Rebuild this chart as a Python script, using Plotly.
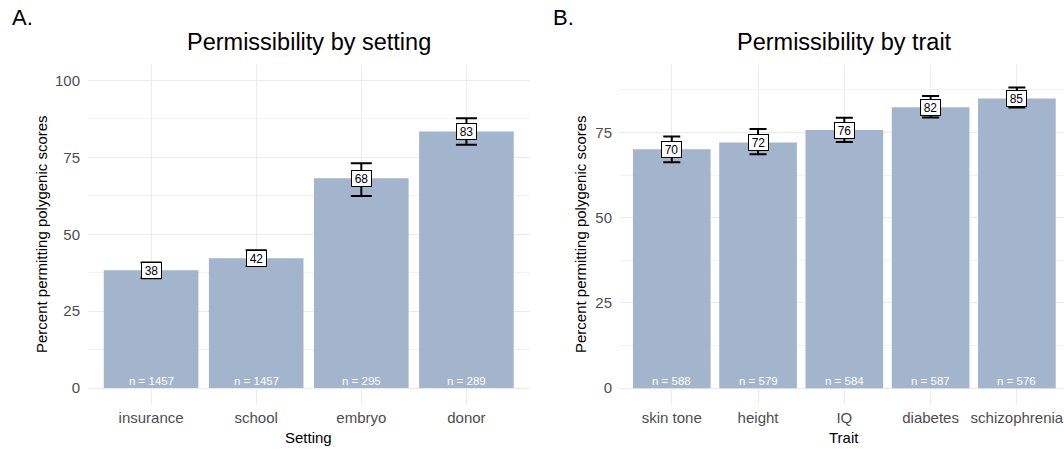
import plotly.graph_objects as go

# Panel A data
setting_cats = ["insurance", "school", "embryo", "donor"]
setting_vals = [38.3, 42.2, 68.2, 83.4]
setting_lo = [35.7, 39.7, 62.4, 79.1]
setting_hi = [40.8, 44.8, 73.1, 87.7]
setting_n = [1457, 1457, 295, 289]

# Panel B data
trait_cats = ["skin tone", "height", "IQ", "diabetes", "schizophrenia"]
trait_vals = [70.1, 72.1, 75.7, 82.4, 85.0]
trait_lo = [66.3, 68.6, 72.2, 79.4, 82.3]
trait_hi = [73.8, 76.0, 79.3, 85.7, 88.2]
trait_n = [588, 579, 584, 587, 576]

BAR = "#A2B5CD"
FONT = "Liberation Sans, Arial, Helvetica, sans-serif"
W, H = 1064, 449

def px_x(p):
    return p / W

def px_y(p):
    return (H - p) / H

fig = go.Figure()

fig.add_trace(go.Bar(
    x=setting_cats, y=setting_vals, marker=dict(color=BAR, line=dict(width=0)),
    width=0.9, xaxis="x", yaxis="y", showlegend=False, hoverinfo="skip",
    error_y=dict(type="data", symmetric=False,
                 array=[h - v for h, v in zip(setting_hi, setting_vals)],
                 arrayminus=[v - l for l, v in zip(setting_lo, setting_vals)],
                 color="black", thickness=2, width=10.5),
))
fig.add_trace(go.Bar(
    x=trait_cats, y=trait_vals, marker=dict(color=BAR, line=dict(width=0)),
    width=0.9, xaxis="x2", yaxis="y2", showlegend=False, hoverinfo="skip",
    error_y=dict(type="data", symmetric=False,
                 array=[h - v for h, v in zip(trait_hi, trait_vals)],
                 arrayminus=[v - l for l, v in zip(trait_lo, trait_vals)],
                 color="black", thickness=2, width=8.5),
))

annotations = []
for cats, vals, ns, xr, yr in [(setting_cats, setting_vals, setting_n, "x", "y"),
                               (trait_cats, trait_vals, trait_n, "x2", "y2")]:
    for c, v, n in zip(cats, vals, ns):
        annotations.append(dict(
            x=c, y=v, xref=xr, yref=yr, text=str(int(round(v))), showarrow=False,
            font=dict(family=FONT, size=12, color="black"),
            bgcolor="white", bordercolor="black", borderwidth=1, borderpad=1,
            width=17, height=13,
            xanchor="center", yanchor="middle"))
        annotations.append(dict(
            x=c, y=0, xref=xr, yref=yr, text=f"n = {n}", showarrow=False,
            font=dict(family=FONT, size=11.5, color="white"),
            xanchor="center", yanchor="bottom", yshift=-1))

TITLE = dict(family=FONT, size=23.5, color="black")
AX = dict(family=FONT, size=15, color="black")
annotations += [
    dict(x=px_x(308.5), y=px_y(42), xref="paper", yref="paper", text="Permissibility by setting",
         showarrow=False, font=TITLE, xanchor="center", yanchor="middle"),
    dict(x=px_x(844), y=px_y(42), xref="paper", yref="paper", text="Permissibility by trait",
         showarrow=False, font=TITLE, xanchor="center", yanchor="middle"),
    dict(x=px_x(10), y=px_y(18), xref="paper", yref="paper", text="A.",
         showarrow=False, font=dict(family=FONT, size=22, color="black"), xanchor="left", yanchor="middle"),
    dict(x=px_x(551), y=px_y(18), xref="paper", yref="paper", text="B.",
         showarrow=False, font=dict(family=FONT, size=22, color="black"), xanchor="left", yanchor="middle"),
    dict(x=px_x(308.5), y=px_y(437), xref="paper", yref="paper", text="Setting",
         showarrow=False, font=AX, xanchor="center", yanchor="middle"),
    dict(x=px_x(844), y=px_y(437), xref="paper", yref="paper", text="Trait",
         showarrow=False, font=AX, xanchor="center", yanchor="middle"),
    dict(x=px_x(41), y=px_y(234), xref="paper", yref="paper", text="Percent permitting polygenic scores",
         showarrow=False, textangle=-90, font=AX, xanchor="center", yanchor="middle"),
    dict(x=px_x(580), y=px_y(234), xref="paper", yref="paper", text="Percent permitting polygenic scores",
         showarrow=False, textangle=-90, font=AX, xanchor="center", yanchor="middle"),
]

ydom = [px_y(403.5), px_y(65)]
grid_major = "#EBEBEB"
tickfont = dict(family=FONT, size=15, color="#4D4D4D")

common_x = dict(showgrid=True, gridcolor=grid_major, gridwidth=1.1, zeroline=False, showline=False,
                ticks="", tickfont=tickfont, type="category", fixedrange=True)
common_y = dict(showgrid=True, gridcolor=grid_major, gridwidth=1.1, zeroline=False, showline=False,
                ticks="", tickfont=tickfont, dtick=25, tick0=0, ticklabelstandoff=7,
                minor=dict(dtick=12.5, tick0=0, showgrid=True, gridcolor="#F2F2F2", gridwidth=0.6),
                fixedrange=True)

fig.update_layout(
    width=W, height=H, margin=dict(l=0, r=0, t=0, b=0),
    paper_bgcolor="white", plot_bgcolor="white",
    font=dict(family=FONT),
    bargap=0.1,
    xaxis=dict(common_x, domain=[px_x(88), px_x(529.5)], range=[-0.6, 3.6], anchor="y", ticklabelstandoff=3),
    yaxis=dict(common_y, domain=ydom, range=[-5, 105], anchor="x"),
    xaxis2=dict(common_x, domain=[px_x(620), 1.0], range=[-0.6, 4.546], anchor="y2", ticklabelstandoff=3),
    yaxis2=dict(common_y, domain=ydom, range=[-4.5, 94.8], anchor="x2"),
    annotations=annotations,
)

fig.write_html("out.html", config={"displayModeBar": False},
               post_script="document.body.style.margin='0';document.body.style.overflow='hidden';")
